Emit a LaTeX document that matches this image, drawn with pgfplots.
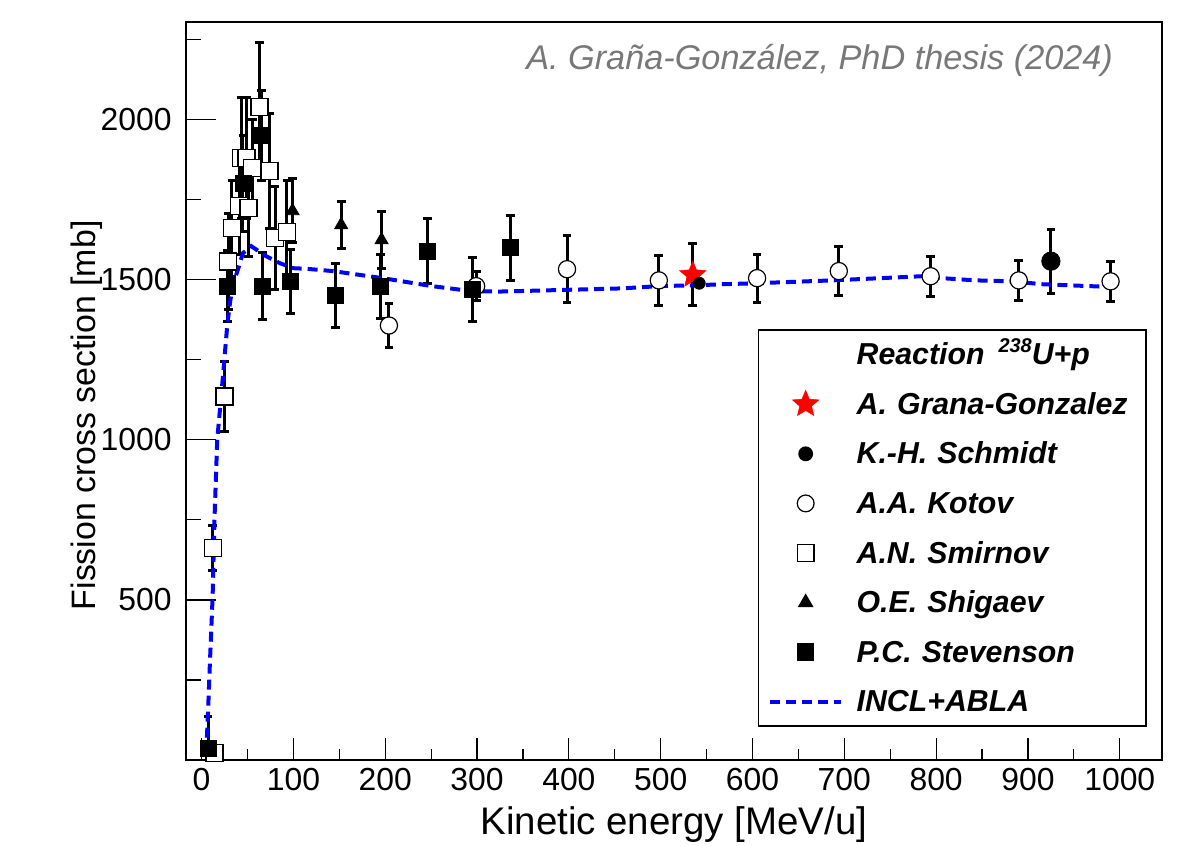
\documentclass[border=0pt]{standalone}
\usepackage{fontspec}
\setmainfont{Liberation Sans}
\usepackage{pgfplots}
\usepackage{pgfplotstable}
\pgfplotsset{compat=1.18}
\usetikzlibrary{plotmarks}
\definecolor{wm}{RGB}{120,120,120}
\pgfdeclareplotmark{fivestar}{%
  \pgfpathmoveto{\pgfpointpolar{90}{\pgfplotmarksize}}%
  \pgfpathlineto{\pgfpointpolar{126}{0.45\pgfplotmarksize}}%
  \pgfpathlineto{\pgfpointpolar{162}{\pgfplotmarksize}}%
  \pgfpathlineto{\pgfpointpolar{198}{0.45\pgfplotmarksize}}%
  \pgfpathlineto{\pgfpointpolar{234}{\pgfplotmarksize}}%
  \pgfpathlineto{\pgfpointpolar{270}{0.45\pgfplotmarksize}}%
  \pgfpathlineto{\pgfpointpolar{306}{\pgfplotmarksize}}%
  \pgfpathlineto{\pgfpointpolar{342}{0.45\pgfplotmarksize}}%
  \pgfpathlineto{\pgfpointpolar{18}{\pgfplotmarksize}}%
  \pgfpathlineto{\pgfpointpolar{54}{0.45\pgfplotmarksize}}%
  \pgfpathclose
  \pgfusepathqfillstroke}

\pgfplotstableread{
E S dS
12 661 70
25 1135 110
29 1557 150
33 1661 150
41 1730 150
43 1880 190
49 1880 190
51 1724 150
55 1850 150
63 2040 200
74 1840 180
80 1630 160
93 1650 160
}\smirnov
\pgfplotstableread{
E S dS
14 22 0
}\smirnovlow
\pgfplotstableread{
E S dS
7 35 100
28 1480 110
45 1800 150
65 1950 140
66 1480 105
97 1495 100
146 1451 100
195 1480 100
246 1589 102
295 1470 100
336 1600 102
}\stevenson
\pgfplotstableread{
E S dS
99 1715 100
152 1671 72
196 1624 90
}\shigaev
\pgfplotstableread{
E S dS
204 1357 68
299 1480 45
398 1533 105
498 1498 78
605 1505 75
694 1527 77
794 1511 63
890 1498 63
990 1495 63
}\kotov
\pgfplotstableread{
E S dS
535 1515 97
}\grana
\pgfplotstableread{
E S dS
542 1489 0
}\schmidtsmall
\pgfplotstableread{
E S dS
925 1558 100
}\schmidtbig

\pgfplotsset{
  rooterr/.style={error bars/.cd, y dir=both, y explicit, error mark=-,
    error bar style={black, line width=1.5bp},
    error mark options={rotate=90, black, line width=1.5bp, mark size=2.2bp}},
}

\begin{document}
\begin{tikzpicture}
\useasboundingbox (-93bp,-43bp) rectangle (507bp,380bp);
\begin{axis}[
  at={(0,0)}, anchor=south west,
  scale only axis, width=488bp, height=369bp,
  xmin=-17, xmax=1046, ymin=0, ymax=2305,
  xtick={0,100,...,1000}, minor xtick={50,150,...,950},
  ytick={500,1000,1500,2000}, minor ytick={250,750,1250,1750,2250},
  xtick pos=left, ytick pos=left, tick align=inside,
  axis line style={line width=0.6bp},
  tick style={black, line width=0.6bp},
  xtick style={/pgfplots/major tick length=11bp, /pgfplots/minor tick length=5.5bp},
  ytick style={/pgfplots/major tick length=15bp, /pgfplots/minor tick length=7.5bp},
  /pgf/number format/assume math mode=true,
  /pgf/number format/1000 sep={},
  ticklabel style={font=\fontsize{16}{19}\selectfont},
  yticklabel style={inner sep=0pt, xshift=-7bp},
  xticklabel style={inner sep=0pt, yshift=-4bp},
  xlabel={Kinetic energy [MeV/u]},
  ylabel={Fission cross section [mb]},
  xlabel style={font=\fontsize{19.3}{22}\selectfont, at={([yshift=-37bp]axis description cs:0.5,0)}, anchor=base},
  ylabel style={font=\fontsize{17}{20}\selectfont, at={([xshift=-45bp]axis description cs:0,0.467)}, anchor=base, rotate=0},
  legend cell align=left,
  legend image code/.code={\draw[mark repeat=2,mark phase=2,#1] plot coordinates {(0bp,0bp)(17.75bp,0bp)(35.5bp,0bp)};},
  legend style={at={(rel axis cs:0.9846,0.0447)}, anchor=south east, draw=black, line width=0.8bp, fill=white,
    inner xsep=4.75bp, inner ysep=4.2bp, row sep=8.8bp, column sep=6.75bp,
    nodes={inner sep=0pt, text height=13bp, text depth=3bp, text width=140bp, align=left,
      font=\fontsize{15.2}{18}\selectfont\bfseries\itshape}},
  every axis plot/.append style={forget plot},
]
% A.N. Smirnov
\addplot[only marks, mark=square*, mark size=4.25bp, mark options={draw=black, fill=white, line width=0.6bp}, rooterr]
  table[x=E, y=S, y error=dS] {\smirnov};
\addplot[only marks, mark=square*, mark size=4.25bp, mark options={draw=black, fill=white, line width=0.6bp}]
  table[x=E, y=S] {\smirnovlow};
% A.A. Kotov
\addplot[only marks, mark=*, mark size=4.3bp, mark options={draw=black, fill=white, line width=0.6bp}, rooterr]
  table[x=E, y=S, y error=dS] {\kotov};
% P.C. Stevenson
\addplot[only marks, mark=square*, mark size=4bp, mark options={draw=black, fill=black}, rooterr]
  table[x=E, y=S, y error=dS] {\stevenson};
% O.E. Shigaev
\addplot[only marks, mark=triangle*, mark size=3.8bp, mark options={draw=black, fill=black}, rooterr]
  table[x=E, y=S, y error=dS] {\shigaev};
% A. Grana-Gonzalez
\addplot[only marks, mark=fivestar, mark size=7bp, mark options={draw=red, fill=red, line width=0.2bp}, rooterr]
  table[x=E, y=S, y error=dS] {\grana};
% K.-H. Schmidt
\addplot[only marks, mark=*, mark size=3bp, mark options={draw=black, fill=black}]
  table[x=E, y=S] {\schmidtsmall};
\addplot[only marks, mark=*, mark size=4.6bp, mark options={draw=black, fill=black}, rooterr]
  table[x=E, y=S, y error=dS] {\schmidtbig};
% INCL+ABLA
\addplot[blue, line width=2bp, dash pattern=on 5bp off 3bp] coordinates {
(5,20)(7,150)(9,300)(12,510)(14,750)(17,1000)(23,1190)(28,1360)(31,1430)(34,1483)(40,1536)(45,1583)(54,1605)(70,1574)(85,1552)(100,1536)(115,1534)(143,1527)(197,1505)(251,1480)(295,1464)(324,1463)(379,1467)(458,1473)(498,1480)(542,1483)(568,1486)(604,1489)(687,1498)(785,1511)(806,1505)(843,1498)(883,1495)(915,1486)(985,1478)(1000,1476)
};
\node[anchor=base east, text=wm, font=\fontsize{17.2}{20}\selectfont\itshape]
  at ([xshift=-21bp, yshift=-24bp]rel axis cs:1,1) {A. Graña-González, PhD thesis (2024)};
% legend
\addlegendimage{empty legend}
\addlegendentry{Reaction\hspace{7bp}\raisebox{0.75ex}{\fontsize{10}{10}\selectfont 238}U+p}
\addlegendimage{only marks, mark=fivestar, mark size=7bp, mark options={draw=red, fill=red, line width=0.2bp}}
\addlegendentry{A. Grana-Gonzalez}
\addlegendimage{only marks, mark=*, mark size=3.3bp, mark options={draw=black, fill=black}}
\addlegendentry{K.-H. Schmidt}
\addlegendimage{only marks, mark=*, mark size=4.2bp, mark options={draw=black, fill=white, line width=0.6bp}}
\addlegendentry{A.A. Kotov}
\addlegendimage{only marks, mark=square*, mark size=4.2bp, mark options={draw=black, fill=white, line width=0.6bp}}
\addlegendentry{A.N. Smirnov}
\addlegendimage{only marks, mark=triangle*, mark size=3.8bp, mark options={draw=black, fill=black}}
\addlegendentry{O.E. Shigaev}
\addlegendimage{only marks, mark=square*, mark size=4bp, mark options={draw=black, fill=black}}
\addlegendentry{P.C. Stevenson}
\addlegendimage{blue, line width=2bp, dash pattern=on 5bp off 3bp}
\addlegendentry{INCL+ABLA}
\end{axis}
\end{tikzpicture}
\end{document}
